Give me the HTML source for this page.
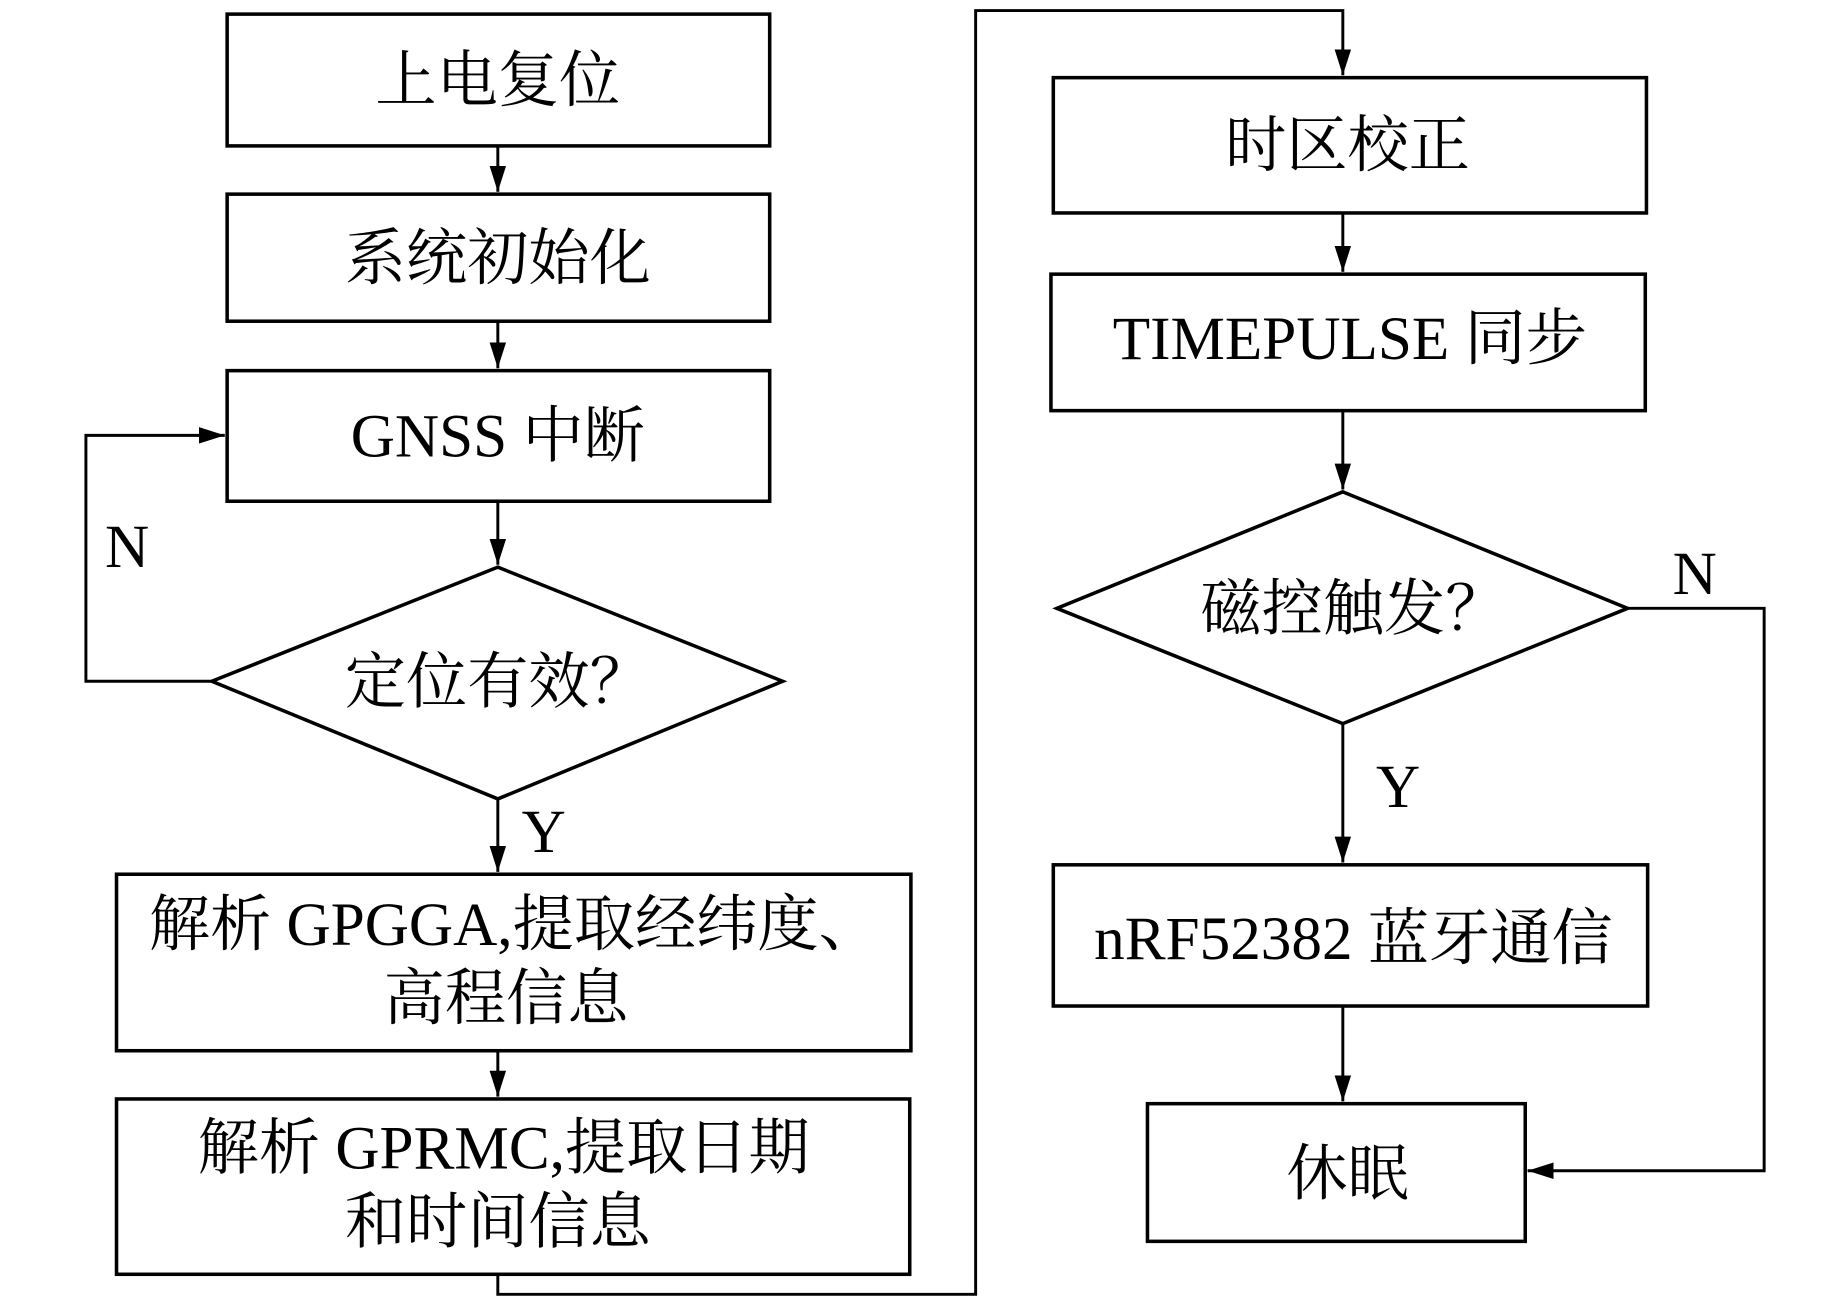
<!DOCTYPE html>
<html><head><meta charset="utf-8"><style>html,body{margin:0;padding:0;background:#fff}svg{display:block}</style></head>
<body>
<svg width="1843" height="1299" viewBox="0 0 1566 1104" preserveAspectRatio="none" xmlns="http://www.w3.org/2000/svg" font-family="'Liberation Serif','Noto Serif CJK SC',serif" font-size="52" text-anchor="middle">
<defs>
<marker id="b" markerWidth="22" markerHeight="14" refX="22" refY="7" orient="auto" markerUnits="userSpaceOnUse"><path d="M0,0 L22,7 L0,14 z" fill="#000"/></marker></defs>
<g fill="none" stroke="#000" stroke-width="3">
<rect x="193" y="12" width="461" height="112"/>
<rect x="193" y="165" width="461" height="108"/>
<rect x="193" y="315" width="461" height="111"/>
<polygon points="423,482 665,579 423,679 180,579"/>
<rect x="99" y="743" width="675" height="150"/>
<rect x="99" y="934" width="674" height="149"/>
<rect x="895" y="66" width="504" height="115"/>
<rect x="893" y="233" width="505" height="116"/>
<polygon points="1141,418 1383,517 1141,615 898,517"/>
<rect x="895" y="735" width="505" height="120"/>
<rect x="975" y="938" width="321" height="117"/>
</g>
<g fill="none" stroke="#000" stroke-width="2.5">
<line x1="423" y1="124" x2="423" y2="163" marker-end="url(#b)"/>
<line x1="423" y1="273" x2="423" y2="313" marker-end="url(#b)"/>
<line x1="423" y1="426" x2="423" y2="480" marker-end="url(#b)"/>
<line x1="423" y1="679" x2="423" y2="741" marker-end="url(#b)"/>
<line x1="423" y1="893" x2="423" y2="932" marker-end="url(#b)"/>
<polyline points="180,579 73,579 73,370 191,370" marker-end="url(#b)"/>
<polyline points="423,1083 423,1100 829,1100 829,9 1141,9 1141,64" marker-end="url(#b)"/>
<line x1="1141" y1="181" x2="1141" y2="231" marker-end="url(#b)"/>
<line x1="1141" y1="349" x2="1141" y2="416" marker-end="url(#b)"/>
<line x1="1141" y1="615" x2="1141" y2="733" marker-end="url(#b)"/>
<line x1="1141" y1="855" x2="1141" y2="936" marker-end="url(#b)"/>
<polyline points="1383,517 1499,517 1499,995 1298,995" marker-end="url(#b)"/>
</g>
<g fill="#000">
<text x="423" y="86">上电复位</text>
<text x="423" y="237">系统初始化</text>
<text x="423" y="388">GNSS 中断</text>
<text x="423" y="597">定位有效？</text>
<text x="437" y="803">解析 GPGGA,提取经纬度、</text>
<text x="430" y="866">高程信息</text>
<text x="428" y="993">解析 GPRMC,提取日期</text>
<text x="423" y="1056">和时间信息</text>
<text x="1145" y="141">时区校正</text>
<text x="1147" y="305">TIMEPULSE 同步</text>
<text x="1150" y="535">磁控触发？</text>
<text x="1150" y="815">nRF52382 蓝牙通信</text>
<text x="1145" y="1015">休眠</text>
<text x="108" y="482">N</text>
<text x="462" y="724">Y</text>
<text x="1440" y="505">N</text>
<text x="1188" y="686">Y</text>
</g>
</svg>
</body></html>
